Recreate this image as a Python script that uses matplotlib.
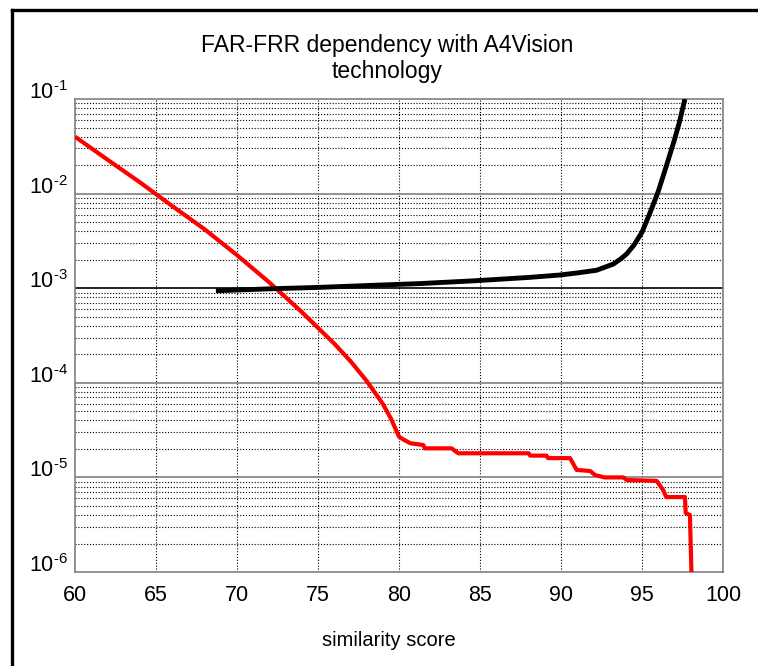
import numpy as np
import matplotlib.pyplot as plt
from matplotlib.lines import Line2D
from matplotlib.ticker import LogLocator, NullFormatter

plt.rcParams['font.family'] = ['Liberation Sans', 'DejaVu Sans']
plt.rcParams['mathtext.fontset'] = 'custom'
plt.rcParams['mathtext.rm'] = 'Liberation Sans'
plt.rcParams['mathtext.default'] = 'regular'

# FRR curve (red)
frr_score = [60, 62, 64, 66, 68, 70, 72, 74, 76, 77, 78, 79, 79.5, 80.0, 80.3,
             80.7, 81.5, 81.6, 83.25, 83.66, 88.0, 88.1, 89.1, 89.2, 90.56,
             90.97, 91.8, 92.1, 92.7, 93.85, 94.05, 95.9, 96.3, 96.5, 97.65,
             97.7, 97.96, 98.06]
frr_value = [0.040, 0.0229, 0.0132, 0.0074, 0.0042, 0.00224, 0.00115, 0.00056,
             0.00026, 0.00017, 0.000105, 6.0e-5, 4.2e-5, 2.7e-5, 2.5e-5,
             2.3e-5, 2.2e-5, 2.03e-5, 2.03e-5, 1.8e-5, 1.8e-5, 1.7e-5, 1.7e-5,
             1.6e-5, 1.6e-5, 1.2e-5, 1.17e-5, 1.06e-5, 1.0e-5, 1.0e-5, 9.4e-6,
             9.2e-6, 7.4e-6, 6.2e-6, 6.2e-6, 4.2e-6, 4.0e-6, 9e-7]

# FAR curve (black)
far_score = [68.7, 72.35, 75, 78.8, 81.3, 84.7, 88, 89.94, 91, 92.2, 93.23,
             93.7, 94.05, 94.5, 95, 95.5, 96, 96.5, 97, 97.3, 97.65]
far_value = [9.4e-4, 9.9e-4, 1.02e-3, 1.08e-3, 1.12e-3, 1.2e-3, 1.3e-3, 1.38e-3,
             1.45e-3, 1.55e-3, 1.8e-3, 2.05e-3, 2.3e-3, 2.85e-3, 3.9e-3, 6.3e-3,
             1.05e-2, 1.95e-2, 3.7e-2, 5.6e-2, 1.0e-1]

x_ticks = [60, 65, 70, 75, 80, 85, 90, 95, 100]
y_decades = [1e-6, 1e-5, 1e-4, 1e-3, 1e-2, 1e-1]
y_tick_labels = ['$10^{‐6}$', '$10^{‐5}$', '$10^{‐4}$', '$10^{‐3}$', '$10^{‐2}$', '$10^{‐1}$']

fig = plt.figure(figsize=(7.58, 6.66), dpi=100)
ax = fig.add_axes([0.0989, 0.1411, 0.8549, 0.7102])

ax.set_yscale('log')
ax.set_xlim(60, 100)
ax.set_ylim(1e-6, 1e-1)

# grid: dotted minor, solid gray decades
dot = (0, (1, 1.6))
for xv in x_ticks[1:-1]:
    ax.axvline(xv, color='black', lw=0.8, ls=dot, zorder=1)
for d in y_decades[:-1]:
    for m in range(2, 10):
        ax.axhline(d * m, color='black', lw=0.8, ls=dot, zorder=1)
for d in y_decades[1:-1]:
    c = 'black' if d == 1e-3 else '#808080'
    ax.axhline(d, color=c, lw=1.2, zorder=1)

ax.plot(frr_score, frr_value, color='#ff0000', lw=3.0, zorder=3, solid_capstyle='butt')
ax.plot(far_score, far_value, color='black', lw=3.5, zorder=3, solid_capstyle='butt')

ax.set_xticks(x_ticks)
ax.set_xticklabels([str(v) for v in x_ticks], fontsize=15.5)
ax.set_yticks(y_decades)
ax.set_yticklabels(y_tick_labels, fontsize=15.5)
ax.yaxis.set_minor_locator(LogLocator(base=10, subs=np.arange(2, 10)))
ax.yaxis.set_minor_formatter(NullFormatter())
ax.tick_params(axis='both', which='both', length=0)
ax.tick_params(axis='x', pad=9)
ax.tick_params(axis='y', pad=5)
for lab in ax.get_yticklabels():
    lab.set_verticalalignment('baseline')

for s in ax.spines.values():
    s.set_color('#808080')
    s.set_linewidth(1.2)

fig.text(0.5106, 0.912, 'FAR-FRR dependency with A4Vision\ntechnology',
         ha='center', va='center', fontsize=16.5, linespacing=1.2)
fig.text(0.513, 0.039, 'similarity score', ha='center', va='center', fontsize=14.5)

# frame on the left and top of the figure
fig.add_artist(Line2D([12 / 758, 12 / 758], [0, 1 - 10 / 666], color='black', lw=2.4,
                      transform=fig.transFigure, solid_capstyle='projecting'))
fig.add_artist(Line2D([12 / 758, 1], [1 - 10 / 666, 1 - 10 / 666], color='black', lw=2.4,
                      transform=fig.transFigure, solid_capstyle='projecting'))

fig.savefig('out.png', dpi=100)
